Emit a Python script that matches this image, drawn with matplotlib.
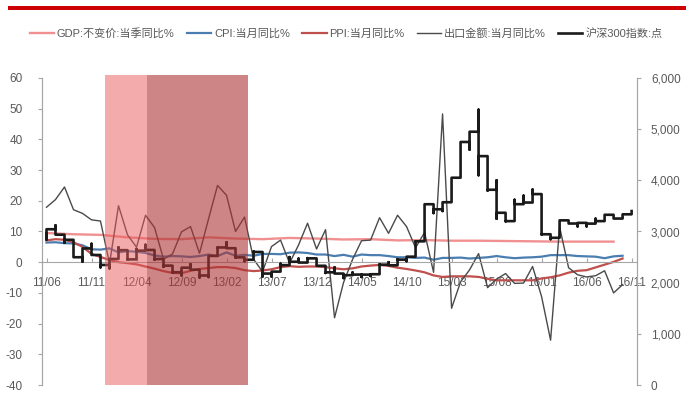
import matplotlib
matplotlib.use("Agg")
import matplotlib.pyplot as plt
from matplotlib.patches import Rectangle
from matplotlib.ticker import FuncFormatter, MultipleLocator

plt.rcParams['font.family'] = ['Liberation Sans', 'Noto Sans CJK SC', 'DejaVu Sans']

# month axis: 2011-06 .. 2016-11
tick_labels = ["11/06", "11/11", "12/04", "12/09", "13/02", "13/07", "13/12",
               "14/05", "14/10", "15/03", "15/08", "16/01", "16/06", "16/11"]

# GDP constant-price yoy, quarterly (month index of quarter end, value)
gdp_months = [0, 3, 6, 9, 12, 15, 18, 21, 24, 27, 30, 33, 36, 39, 42, 45, 48, 51, 54, 57, 60, 63]
gdp_yoy = [9.5, 9.1, 8.9, 8.1, 7.6, 7.5, 8.1, 7.7, 7.5, 7.9, 7.7, 7.4,
           7.5, 7.1, 7.2, 7.0, 7.0, 6.9, 6.8, 6.7, 6.7, 6.7]

# monthly series, 2011-06 .. 2016-10
cpi_yoy = [6.4, 6.5, 6.2, 6.1, 5.5, 4.2, 4.1,
           4.5, 3.2, 3.6, 3.4, 3.0, 2.2, 1.8, 2.0, 1.9, 1.7, 2.0, 2.5,
           2.0, 3.2, 2.1, 2.4, 2.1, 2.7, 2.7, 2.6, 3.1, 3.2, 3.0, 2.5,
           2.5, 2.0, 2.4, 1.8, 2.5, 2.3, 2.3, 2.0, 1.6, 1.6, 1.4, 1.5,
           0.8, 1.4, 1.4, 1.5, 1.2, 1.4, 1.6, 2.0, 1.6, 1.3, 1.5, 1.6,
           1.8, 2.3, 2.3, 2.3, 2.0, 1.9, 1.8, 1.3, 1.9, 2.1]
ppi_yoy = [7.1, 7.5, 7.3, 6.5, 5.0, 2.7, 1.7,
           0.7, 0.0, -0.3, -0.7, -1.4, -2.1, -2.9, -3.5, -3.6, -2.8, -2.2, -1.9,
           -1.6, -1.6, -1.9, -2.6, -2.9, -2.7, -2.3, -1.6, -1.3, -1.5, -1.4, -1.4,
           -1.6, -2.0, -2.3, -2.0, -1.4, -1.1, -0.9, -1.2, -1.8, -2.2, -2.7, -3.3,
           -4.3, -4.8, -4.6, -4.6, -4.6, -4.8, -5.4, -5.9, -5.9, -5.9, -5.9, -5.9,
           -5.3, -4.9, -4.3, -3.4, -2.8, -2.6, -1.7, -0.8, 0.1, 1.2]
export_yoy = [17.9, 20.4, 24.5, 17.1, 15.9, 13.8, 13.4,
              -0.5, 18.4, 8.9, 4.9, 15.3, 11.3, 1.0, 2.7, 9.9, 11.6, 2.9, 14.1,
              25.0, 21.8, 10.0, 14.7, 1.0, -3.1, 5.1, 7.2, -0.3, 5.6, 12.7, 4.3,
              10.6, -18.1, -6.6, 0.9, 7.0, 7.2, 14.5, 9.4, 15.3, 11.6, 4.7, 9.7,
              -3.3, 48.3, -15.0, -6.4, -2.5, 2.8, -8.3, -5.5, -3.7, -6.9, -6.8, -1.4,
              -11.2, -25.4, 11.5, -1.8, -4.1, -4.8, -4.4, -2.8, -10.0, -7.3]

# CSI 300 index, daily path condensed to a few points per month (2011-06 .. 2016-11)
csi300 = [
    [2960, 2840, 3044], [3044, 3120, 2938], [2938, 2780, 2838], [2838, 2540, 2497],
    [2497, 2410, 2669], [2669, 2760, 2541], [2541, 2300, 2346],
    [2346, 2280, 2464], [2464, 2690, 2635], [2635, 2450, 2455], [2455, 2660, 2626],
    [2626, 2740, 2639], [2639, 2450, 2462], [2462, 2310, 2333], [2333, 2200, 2204],
    [2204, 2140, 2293], [2293, 2360, 2254], [2254, 2100, 2140], [2140, 2110, 2523],
    [2523, 2690, 2688], [2688, 2790, 2673], [2673, 2490, 2495], [2495, 2420, 2448],
    [2448, 2610, 2600], [2600, 2120, 2178], [2178, 2120, 2216], [2216, 2370, 2342],
    [2342, 2500, 2409], [2409, 2470, 2393], [2393, 2480, 2475], [2475, 2330, 2330],
    [2330, 2190, 2202], [2202, 2300, 2178], [2178, 2090, 2146], [2146, 2200, 2158],
    [2158, 2110, 2157], [2157, 2130, 2165], [2165, 2360, 2352], [2352, 2400, 2339],
    [2339, 2460, 2450], [2450, 2420, 2508], [2508, 2810, 2808], [2808, 3530, 3533],
    [3533, 3360, 3434], [3434, 3400, 3572], [3572, 4051], [4051, 4750],
    [4749, 4600, 4950], [4950, 5380, 4100, 4473], [4473, 3800, 4200, 3816], [3816, 4000, 3250, 3366],
    [3366, 3200, 3203], [3203, 3620, 3534], [3534, 3700, 3566], [3566, 3600, 3820, 3731],
    [3731, 2940, 2946], [2946, 2850, 2877], [2877, 3218], [3218, 3156],
    [3156, 3100, 3169], [3169, 3100, 3154], [3154, 3250, 3203], [3203, 3327],
    [3327, 3253], [3253, 3336], [3336, 3400],
]

# policy periods, in month-index units
shade_light = (6.5, 11.2)
shade_dark = (11.2, 22.4)

fig = plt.figure(figsize=(6.92, 4.19), dpi=100)
ax = fig.add_axes([42 / 692, 1 - 385 / 419, 595 / 692, 307 / 419])
ax2 = ax.twinx()

ax.plot(gdp_months, gdp_yoy, color='#F19090', lw=1.7, label='GDP:不变价:当季同比%')
ax.plot(range(len(cpi_yoy)), cpi_yoy, color='#4A7DB0', lw=1.6, label='CPI:当月同比%')
ax.plot(range(len(ppi_yoy)), ppi_yoy, color='#C0504D', lw=1.6, label='PPI:当月同比%')
ax.plot(range(len(export_yoy)), export_yoy, color='#4A4A4A', lw=1.0, label='出口金额:当月同比%')

csi_x, csi_y = [], []
for i, pts in enumerate(csi300):
    csi_x += [i] * len(pts)
    csi_y += pts
ax2.plot(csi_x, csi_y, color='#1A1A1A', lw=1.9, label='沪深300指数:点')

# shaded periods drawn over the lines
for (x0, x1), col, a in [(shade_light, '#E8595B', 0.5), (shade_dark, '#AD3434', 0.6)]:
    ax2.axvspan(x0, x1, ymin=0, ymax=1.01, color=col, alpha=a, lw=0, zorder=5, clip_on=False)

ax.set_xlim(-0.5, 65.6)
ax.set_ylim(-40, 60)
ax2.set_ylim(0, 6000)

grey = '#A6A6A6'
txt = '#595959'
for a_ in (ax, ax2):
    a_.spines['top'].set_visible(False)
    a_.spines['left'].set_color(grey)
    a_.spines['right'].set_color(grey)
ax2.spines['bottom'].set_visible(False)
ax.spines['bottom'].set_position(('data', 0))
ax.spines['bottom'].set_color(grey)

ax.yaxis.set_major_locator(MultipleLocator(10))
ax.yaxis.set_major_formatter(FuncFormatter(lambda v, p: f"{int(v)}"))
ax.tick_params(axis='y', colors=grey, labelcolor=txt, length=3, width=0.8, pad=11, labelsize=8.5)

ax.set_xticks(range(0, 66, 5))
ax.set_xticklabels(tick_labels)
ax.tick_params(axis='x', colors=grey, labelcolor=txt, length=3, width=0.8, direction='in',
               pad=11, labelsize=8.5)

ax2.yaxis.set_major_locator(MultipleLocator(1000))
ax2.yaxis.set_major_formatter(FuncFormatter(lambda v, p: f"{int(v):,}"))
ax2.tick_params(axis='y', colors=grey, labelcolor=txt, length=3, width=0.8, pad=7, labelsize=8.5)

handles = ax.get_lines() + ax2.get_lines()
fig.legend(handles, [h.get_label() for h in handles], loc='center', bbox_to_anchor=(0.5, 1 - 33 / 419),
           ncol=5, frameon=False, fontsize=8, handlelength=2.2, handletextpad=0.25,
           columnspacing=1.1, labelcolor=txt)

# red rule across the top
fig.patches.append(Rectangle((8 / 692, 1 - 10 / 419), 678 / 692, 4 / 419,
                             transform=fig.transFigure, color='#CC0000', lw=0))

fig.savefig('out.png', dpi=100)
